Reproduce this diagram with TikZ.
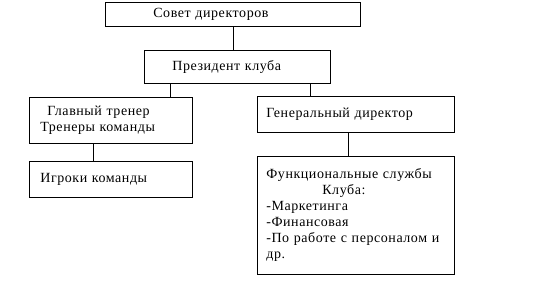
\documentclass[tikz,border=0pt]{standalone}
\usepackage{fontspec}
\setmainfont[LetterSpace=4]{Liberation Serif}
\usepackage{tikz}
\usetikzlibrary{positioning, calc}

\begin{document}
\begin{tikzpicture}[x=1pt, y=-1pt, line width=0.7pt,
        box/.style={draw, rectangle, anchor=north west, align=left, inner ysep=0pt,
          font=\fontsize{14}{16}\selectfont}]
      \useasboundingbox (0,0) rectangle (541,288);
      \node[box, minimum height=24pt, inner xsep=48pt, text width=159pt] (board) at (105,2) {Совет директоров};
      \node[box, minimum height=33pt, inner xsep=28pt, text width=130pt] (pres) at (144,50) {Президент клуба};
      \node[box, minimum height=46pt, inner xsep=11pt, text width=141pt] (coach) at (29,97) {\hspace*{7pt}Главный тренер\\Тренеры команды};
      \node[box, minimum height=36pt, inner xsep=9pt, text width=179pt] (gendir) at (257,96) {Генеральный директор};
      \node[box, minimum height=36pt, inner xsep=11pt, text width=141pt] (players) at (29,161) {Игроки команды};
      \node[box, minimum height=118pt, inner xsep=9pt, text width=179pt] (serv) at (257,156) {Функциональные службы\\\hspace*{56pt}Клуба:\\-Маркетинга\\-Финансовая\\-По работе с персоналом и\\др.};
      \draw (board.south) -- (board.south |- pres.north);
      \draw ([xshift=-67pt]pres.south) -- ([xshift=-67pt]pres.south |- coach.north);
      \draw ([xshift=73pt]pres.south) -- ([xshift=73pt]pres.south |- gendir.north);
      \draw ([xshift=-17.5pt]coach.south) -- ([xshift=-17.5pt]coach.south |- players.north);
      \draw ([xshift=-7.5pt]gendir.south) -- ([xshift=-7.5pt]gendir.south |- serv.north);
\end{tikzpicture}
\end{document}
